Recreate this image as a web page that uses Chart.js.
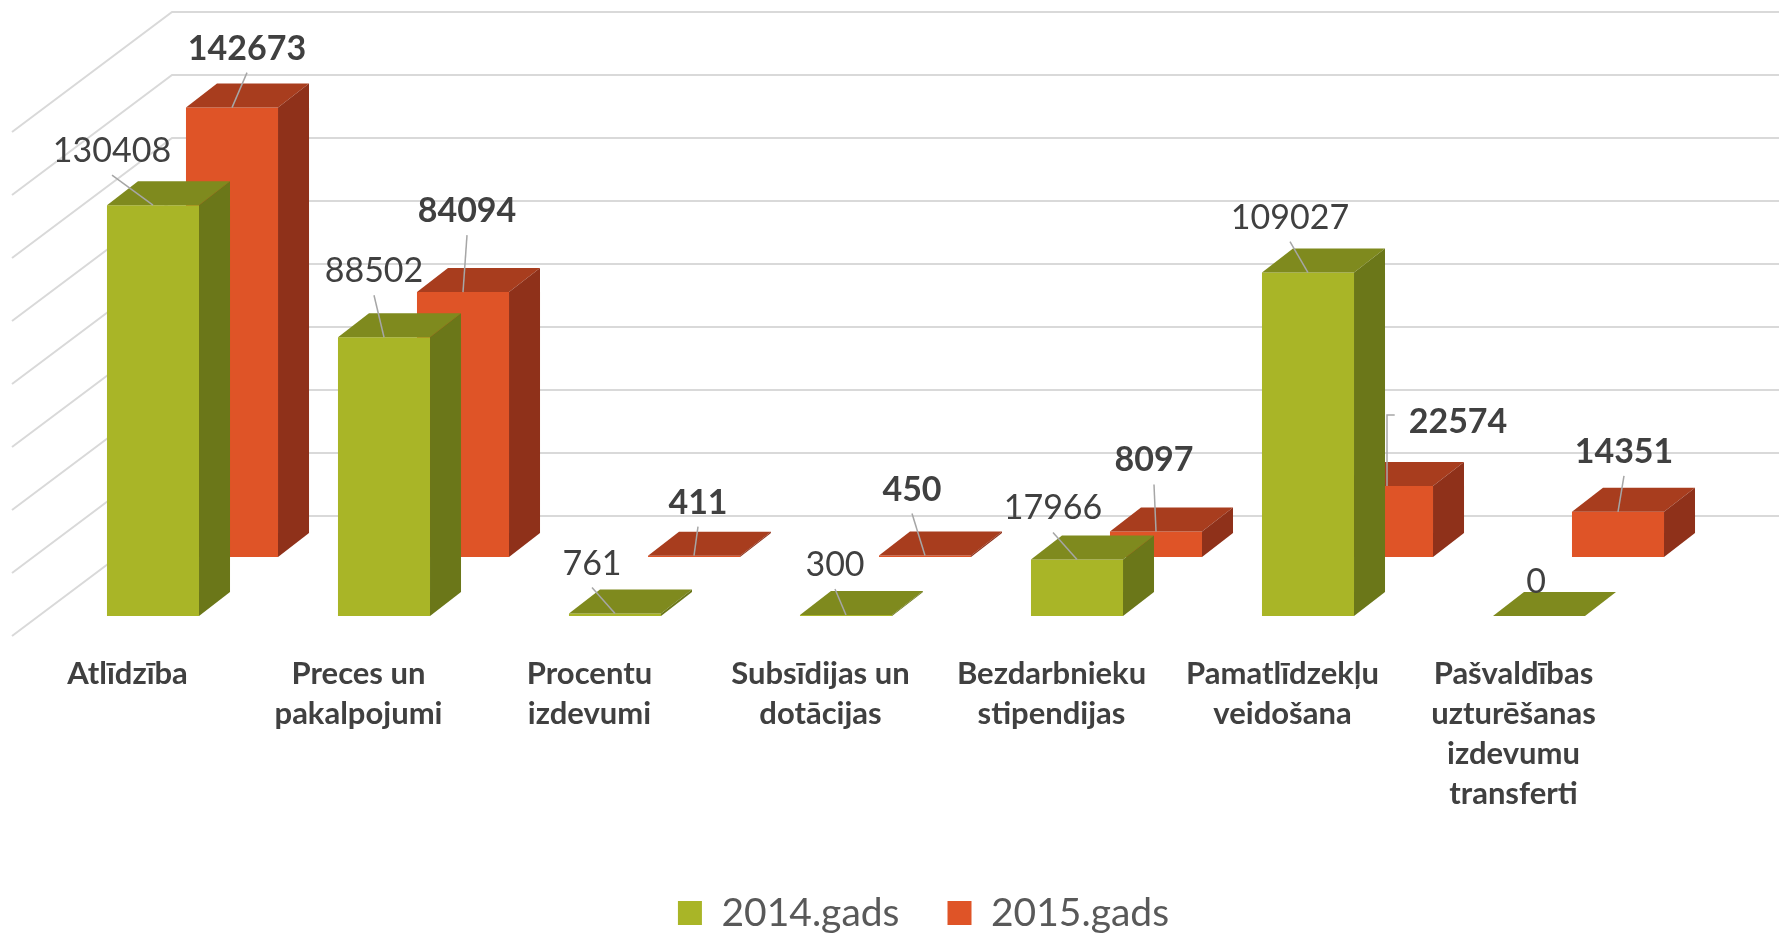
<!DOCTYPE html>
<html>
<head>
<meta charset="utf-8">
<script src="https://cdn.jsdelivr.net/npm/chart.js@4.4.1/dist/chart.umd.min.js"></script>
<style>
html, body { margin: 0; padding: 0; background: #fff; }
</style>
</head>
<body>
<canvas id="myChart" width="1779" height="937"></canvas>
<script>
var labels = [
    ["Atlīdzība"],
    ["Preces un", "pakalpojumi"],
    ["Procentu", "izdevumi"],
    ["Subsīdijas un", "dotācijas"],
    ["Bezdarbnieku", "stipendijas"],
    ["Pamatlīdzekļu", "veidošana"],
    ["Pašvaldības", "uzturēšanas", "izdevumu", "transferti"]
];
var gads2014 = [130408, 88502, 761, 300, 17966, 109027, 0];
var gads2015 = [142673, 84094, 411, 450, 8097, 22574, 14351];
var gridTicks = [0, 20000, 40000, 60000, 80000, 100000, 120000, 140000, 160000];

// where each value label sits relative to the top of its bar (px)
var nudge2014 = [[-41, -54], [-10, -66], [-23, -50], [-11, -50], [-24, -51], [-18, -55], [-3, -34]];
var nudge2015 = [[15, -59], [4, -81], [4, -53], [-13, -66], [-2, -71], [71, -64], [6, -60]];

// fake 3d
var depthX = 31, depthY = -24;     // depth of one bar
var rowShift = -59;                // 2015 row stands behind 2014 row
var wallX = 95, wallY = -100;      // back wall
var sideX = -160, sideY = 120;     // left wall diagonals
var plotBottom = 616;
var legendMidY = 913, legendShiftX = 38;

var threeD = {
    id: 'threeD',
    afterLayout: function(chart) {
        var lg = chart.legend;
        var pad = lg.options.labels.padding;
        var h = lg.height;
        lg.top = legendMidY - pad - lg.options.labels.font.size / 2;
        lg.bottom = lg.top + h;
        lg.left += legendShiftX;
        lg.right += legendShiftX;
    },
    beforeDatasetsDraw: function(chart) {
        var ctx = chart.ctx;
        var y = chart.scales.y;
        var x0 = chart.chartArea.left + wallX;
        ctx.save();
        ctx.strokeStyle = '#d9d9d9';
        ctx.lineWidth = 2;
        gridTicks.forEach(function(t) {
            var py = y.getPixelForValue(t) + wallY;
            ctx.beginPath();
            ctx.moveTo(x0 + sideX, py + sideY);
            ctx.lineTo(x0, py);
            ctx.lineTo(chart.width, py);
            ctx.stroke();
        });
        ctx.restore();
    },
    beforeDatasetDraw: function(chart, args) {
        if (args.index === 1) {
            chart.ctx.save();
            chart.ctx.translate(0, rowShift);
        }
    },
    afterDatasetDraw: function(chart, args) {
        var ctx = chart.ctx;
        var ds = chart.data.datasets[args.index];
        args.meta.data.forEach(function(bar) {
            var l = bar.x - bar.width / 2, r = bar.x + bar.width / 2;
            ctx.fillStyle = ds.topColor;
            ctx.beginPath();
            ctx.moveTo(l, bar.y);
            ctx.lineTo(r, bar.y);
            ctx.lineTo(r + depthX, bar.y + depthY);
            ctx.lineTo(l + depthX, bar.y + depthY);
            ctx.closePath();
            ctx.fill();
            ctx.fillStyle = ds.sideColor;
            ctx.beginPath();
            ctx.moveTo(r, bar.y);
            ctx.lineTo(r + depthX, bar.y + depthY);
            ctx.lineTo(r + depthX, bar.base + depthY);
            ctx.lineTo(r, bar.base);
            ctx.closePath();
            ctx.fill();
        });
        if (args.index === 1) ctx.restore();
    },
    afterDatasetsDraw: function(chart) {
        var ctx = chart.ctx;
        ctx.save();
        [0, 1].forEach(function(i) {
            var meta = chart.getDatasetMeta(i);
            var shift = i === 1 ? rowShift : 0;
            var nudge = i === 0 ? nudge2014 : nudge2015;
            var vals = chart.data.datasets[i].data;
            ctx.font = (i === 1 ? 'bold ' : '') + '34px Lato';
            meta.data.forEach(function(bar, j) {
                var ax = bar.x, ay = bar.y + shift;
                var lx = ax + nudge[j][0], ly = ay + nudge[j][1];
                var text = String(vals[j]);
                ctx.strokeStyle = '#a6a6a6';
                ctx.lineWidth = 1.5;
                if (nudge[j][0] > 40) {
                    var w = ctx.measureText(text).width;
                    ctx.beginPath();
                    ctx.moveTo(ax, ay);
                    ctx.lineTo(ax, ly - 7);
                    ctx.lineTo(lx - w / 2 - 14, ly - 7);
                    ctx.stroke();
                } else {
                    var ex = lx, ey = ly + 24;
                    if (Math.hypot(ex - ax, ey - ay) > 14) {
                        ctx.beginPath();
                        ctx.moveTo(ax, ay);
                        ctx.lineTo(ex, ey);
                        ctx.stroke();
                    }
                }
                ctx.fillStyle = '#404040';
                ctx.textAlign = 'center';
                ctx.textBaseline = 'middle';
                ctx.fillText(text, lx, ly);
            });
        });
        ctx.restore();
    }
};

var ctx = document.getElementById('myChart').getContext('2d');
var myChart = new Chart(ctx, {
    type: 'bar',
    data: {
        labels: labels,
        datasets: [{
            label: '2014.gads',
            data: gads2014,
            backgroundColor: '#a9b527',
            topColor: '#7f8a1e',
            sideColor: '#6b7719',
            borderWidth: 0,
            clip: false,
            categoryPercentage: 0.684,
            barPercentage: 1.165
        },
        {
            label: '2015.gads',
            data: gads2015,
            backgroundColor: '#df5427',
            topColor: '#a83d1e',
            sideColor: '#8f311a',
            borderWidth: 0,
            clip: false,
            categoryPercentage: 0.684,
            barPercentage: 1.165
        }]
    },
    options: {
        responsive: false,
        animation: false,
        layout: { padding: { left: 77, right: 85, top: 112, bottom: 0 } },
        scales: {
            x: {
                grid: { display: false, drawTicks: false },
                border: { display: false },
                ticks: {
                    padding: 38,
                    labelOffset: -65,
                    maxRotation: 0,
                    autoSkip: false,
                    color: '#404040',
                    font: { family: 'Lato', size: 31, weight: 'bold', lineHeight: 1.29 }
                },
                afterFit: function(scale) {
                    scale.height = scale.chart.height - plotBottom - scale.chart.legend.height;
                }
            },
            y: { display: false, min: 0, max: 160000 }
        },
        plugins: {
            legend: {
                position: 'bottom',
                labels: {
                    boxWidth: 24,
                    boxHeight: 24,
                    padding: 48,
                    color: '#595959',
                    font: { family: 'Lato', size: 39 }
                }
            },
            tooltip: { enabled: false }
        }
    },
    plugins: [threeD]
});
</script>
</body>
</html>
